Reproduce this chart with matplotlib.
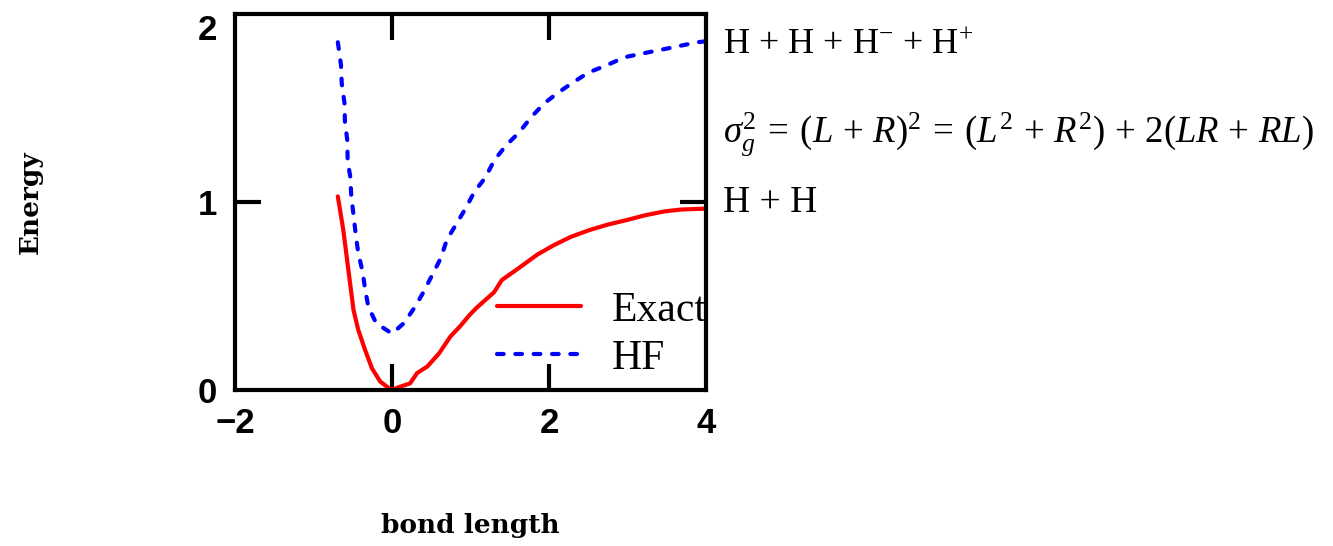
import numpy as np
import matplotlib
matplotlib.use("Agg")
import matplotlib.pyplot as plt

plt.rcParams["mathtext.fontset"] = "custom"
plt.rcParams["mathtext.rm"] = "Liberation Serif"
plt.rcParams["mathtext.it"] = "Liberation Serif:italic"

# exact potential curve
exact_x = [-0.69, -0.62, -0.55, -0.49, -0.43, -0.34, -0.255, -0.15, -0.04, 0.0,
           0.085, 0.23, 0.32, 0.45, 0.60, 0.745, 0.87, 0.99, 1.085, 1.30, 1.40,
           1.62, 1.85, 2.06, 2.28, 2.51, 2.75, 3.0, 3.23, 3.47, 3.68, 4.0]
exact_y = [1.03, 0.85, 0.62, 0.425, 0.32, 0.21, 0.115, 0.045, 0.01, 0.0,
           0.015, 0.035, 0.09, 0.125, 0.195, 0.285, 0.34, 0.40, 0.44, 0.52, 0.585,
           0.65, 0.72, 0.77, 0.815, 0.85, 0.88, 0.905, 0.93, 0.95, 0.96, 0.965]

# Hartree-Fock curve
hf_x = [-0.69, -0.65, -0.64, -0.605, -0.60, -0.57, -0.565, -0.53, -0.52, -0.49,
        -0.46, -0.43, -0.375, -0.34, -0.30, -0.20, 0.0, 0.15, 0.29, 0.40, 0.51,
        0.62, 0.70, 0.83, 0.95, 1.05, 1.19, 1.30, 1.45, 1.62, 1.77, 1.94, 2.11,
        2.32, 2.51, 2.75, 2.96, 3.19, 3.43, 3.66, 3.89, 4.0]
hf_y = [1.85, 1.73, 1.63, 1.525, 1.43, 1.33, 1.22, 1.13, 1.04, 0.93,
        0.82, 0.73, 0.63, 0.53, 0.44, 0.355, 0.30, 0.355, 0.44, 0.52, 0.61,
        0.70, 0.80, 0.89, 0.975, 1.055, 1.13, 1.22, 1.30, 1.37, 1.45, 1.525, 1.58,
        1.64, 1.69, 1.73, 1.77, 1.79, 1.81, 1.83, 1.85, 1.855]

xticks = [-2, 0, 2, 4]
yticks = [0, 1, 2]

fig = plt.figure(figsize=(13.33, 5.46), dpi=100)
ax = fig.add_axes([0.1763, 0.2857, 0.3533, 0.6886])

ax.plot(exact_x, exact_y, color="#ff0000", lw=3, label="Exact", solid_capstyle="round")
ax.plot(hf_x, hf_y, color="#0000ff", lw=3, ls=(0, (1.6, 2.8)),
        dash_capstyle="round", label="HF")

ax.set_xlim(-2, 4)
ax.set_ylim(0, 2)

for s in ax.spines.values():
    s.set_linewidth(3)

ax.set_xticks(xticks)
ax.set_yticks(yticks)
ax.set_xticklabels([f"{v}".replace("-", "\u2212") for v in xticks])
ax.set_yticklabels([str(v) for v in yticks])
ax.tick_params(direction="in", length=19, width=3, top=True, right=True,
               labelsize=25)
ax.tick_params(axis="x", pad=12)
ax.tick_params(axis="y", pad=13)
for lab in ax.get_xticklabels() + ax.get_yticklabels():
    lab.set_fontfamily("Liberation Sans")
    lab.set_fontweight("bold")
ax.get_yticklabels()[2].set_va("top")

# hide ticks that sit on the box edges
for t in ax.xaxis.get_major_ticks():
    if t.get_loc() in (-2, 4):
        t.tick1line.set_visible(False)
        t.tick2line.set_visible(False)
for t in ax.yaxis.get_major_ticks():
    if t.get_loc() in (0, 2):
        t.tick1line.set_visible(False)
        t.tick2line.set_visible(False)

ax.set_xlabel("bond length", family="DejaVu Serif", weight="bold", fontsize=19,
              va="center")
ax.xaxis.set_label_coords(0.5, -0.36)
ax.set_ylabel("Energy", family="DejaVu Serif", weight="bold", fontsize=19,
              va="center")
ax.yaxis.set_label_coords(-0.435, 0.5)

leg = ax.legend(loc="upper left", bbox_to_anchor=(0.557, 0.262), frameon=False,
                prop={"family": "Liberation Serif", "size": 30},
                handlelength=2.0, handletextpad=0.75, labelspacing=0.22,
                borderpad=0, borderaxespad=0)

tkw = dict(family="Liberation Serif", ha="left", va="center", clip_on=False)
ax.text(4.22, 1.835, r"H + H + H$^{-}$ + H$^{+}$", fontsize=26, **tkw)
ax.text(4.22, 1.36,
        r"$\sigma_g^2 \:=\: (L\,+\,R)^2 \:=\: (L^2\,+\,R^2)\,+\,2(LR\,+\,RL)$",
        fontsize=26.5, **tkw)
ax.text(4.22, 0.995, "H + H", fontsize=27, **tkw)

fig.savefig("out.png", dpi=100)
